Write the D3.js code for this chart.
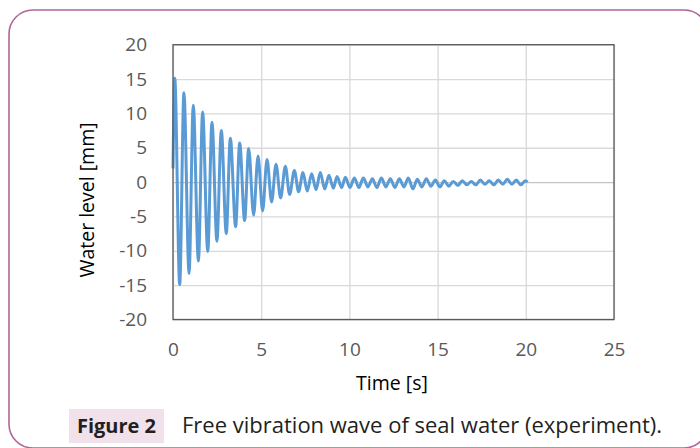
<!DOCTYPE html>
<html>
<head>
<meta charset="utf-8">
<script src="https://cdn.jsdelivr.net/npm/d3@7"></script>
<style>
  body { margin: 0; background: #fff; }
  text { font-family: "Open Sans", sans-serif; }
</style>
</head>
<body>
<script>
let waveTime = [
    0.00, 0.10, 0.38, 0.62, 0.91, 1.15, 1.44, 1.68, 1.97, 2.21,
    2.49, 2.74, 3.02, 3.25, 3.55, 3.78, 4.06, 4.29, 4.57, 4.82,
    5.08, 5.33, 5.59, 5.84, 6.10, 6.37, 6.61, 6.88, 7.12, 7.37,
    7.61, 7.86, 8.11, 8.35, 8.60, 8.84, 9.09, 9.30, 9.56, 9.77,
    10.03, 10.28, 10.54, 10.79, 11.05, 11.30, 11.56, 11.81, 12.07, 12.32,
    12.58, 12.83, 13.09, 13.34, 13.60, 13.85, 14.11, 14.36, 14.62, 14.87,
    15.13, 15.38, 15.64, 15.89, 16.15, 16.40, 16.66, 16.91, 17.17, 17.42,
    17.68, 17.93, 18.19, 18.44, 18.70, 18.95, 19.21, 19.46, 19.72, 19.97, 20.10
];
let waveLevel = [
    2.0, 15.1, -14.9, 13.0, -13.3, 11.2, -11.5, 10.2, -10.1, 8.7,
    -8.6, 7.5, -7.5, 6.4, -6.5, 5.7, -5.6, 4.9, -4.8, 3.8,
    -4.2, 3.3, -2.9, 2.6, -2.3, 2.3, -1.8, 1.7, -1.4, 1.4,
    -1.3, 1.2, -1.1, 1.4, -1.0, 1.0, -0.9, 0.8, -0.8, 0.7,
    -0.8, 0.6, -0.8, 0.6, -0.7, 0.5, -0.8, 0.6, -0.7, 0.5,
    -0.8, 0.5, -0.7, 0.6, -1.0, 0.4, -0.7, 0.5, -0.6, 0.3,
    -0.7, 0.2, -0.6, 0.1, -0.5, 0.2, -0.4, 0.1, -0.4, 0.3,
    -0.3, 0.2, -0.4, 0.3, -0.3, 0.4, -0.3, 0.3, -0.4, 0.2, 0.0
];
let xTicks = [0, 5, 10, 15, 20, 25];
let yTicks = [-20, -15, -10, -5, 0, 5, 10, 15, 20];

let margin = {top: 44.7, right: 86, bottom: 128.5, left: 173},
    width = 700 - margin.left - margin.right,
    height = 448 - margin.top - margin.bottom;

let svg = d3.select("body")
    .append("svg")
        .attr("width", 700)
        .attr("height", 448);

// rounded frame round the whole figure
svg.append("rect")
    .attr("x", 9)
    .attr("y", 10)
    .attr("width", 699)
    .attr("height", 438)
    .attr("rx", 24)
    .style("fill", "none")
    .style("stroke", "#b0669a")
    .style("stroke-width", 1.6);

let g = svg.append("g")
    .attr("transform", "translate(" + margin.left + "," + margin.top + ")");

let x = d3.scaleLinear()
    .domain([0, 25])
    .range([0, width]);

let y = d3.scaleLinear()
    .domain([-20, 20])
    .range([height, 0]);

//gridlines
g.append("g")
    .call(d3.axisLeft(y).tickValues(yTicks).tickSize(-width).tickFormat(""))
    .call(a => a.select(".domain").remove())
    .selectAll("line")
        .style("stroke", d => d == 0 ? "#c4c4c4" : "#d9d9d9")
        .style("stroke-width", 1.3);

g.append("g")
    .attr("transform", "translate(0," + height + ")")
    .call(d3.axisBottom(x).tickValues(xTicks).tickSize(-height).tickFormat(""))
    .call(a => a.select(".domain").remove())
    .selectAll("line")
        .style("stroke", "#d9d9d9")
        .style("stroke-width", 1.3);

// tick labels, plain hyphen for negatives like the original
g.append("g")
    .attr("transform", "translate(-23,0)")
    .call(d3.axisLeft(y).tickValues(yTicks).tickSize(0).tickFormat(d => String(d)))
    .call(a => a.select(".domain").remove())
    .selectAll("text")
        .style("font-family", "Open Sans, sans-serif")
        .style("font-size", "19px")
        .style("fill", "#595959");

g.append("g")
    .attr("transform", "translate(0," + (height + 20) + ")")
    .call(d3.axisBottom(x).tickValues(xTicks).tickSize(0).tickFormat(d => String(d)))
    .call(a => a.select(".domain").remove())
    .selectAll("text")
        .style("font-family", "Open Sans, sans-serif")
        .style("font-size", "19px")
        .style("fill", "#595959");

let line = d3.line()
    .x(i => x(waveTime[i]))
    .y(i => y(waveLevel[i]))
    .curve(d3.curveMonotoneX);

g.append("path")
    .datum(d3.range(waveTime.length))
    .attr("d", line)
    .style("fill", "none")
    .style("stroke", "#5b9bd5")
    .style("stroke-width", 3);

// plot border
g.append("rect")
    .attr("width", width)
    .attr("height", height)
    .style("fill", "none")
    .style("stroke", "#595959")
    .style("stroke-width", 1.3);

svg.append("text")
    .text("Time [s]")
    .attr("x", 392)
    .attr("y", 390)
    .attr("text-anchor", "middle")
    .style("font-size", "19.5px")
    .style("fill", "#000");

svg.append("text")
    .text("Water level [mm]")
    .attr("transform", "translate(94,200) rotate(-90)")
    .attr("text-anchor", "middle")
    .style("font-size", "19.5px")
    .style("fill", "#000");

// caption
svg.append("rect")
    .attr("x", 69)
    .attr("y", 409)
    .attr("width", 95)
    .attr("height", 34)
    .style("fill", "#f1e1ea");

svg.append("text")
    .text("Figure 2")
    .attr("x", 116.5)
    .attr("y", 433)
    .attr("text-anchor", "middle")
    .style("font-size", "20px")
    .style("font-weight", "bold")
    .style("fill", "#231f20");

svg.append("text")
    .text("Free vibration wave of seal water (experiment).")
    .attr("x", 182)
    .attr("y", 433)
    .style("font-size", "22px")
    .style("fill", "#231f20");
</script>
</body>
</html>
